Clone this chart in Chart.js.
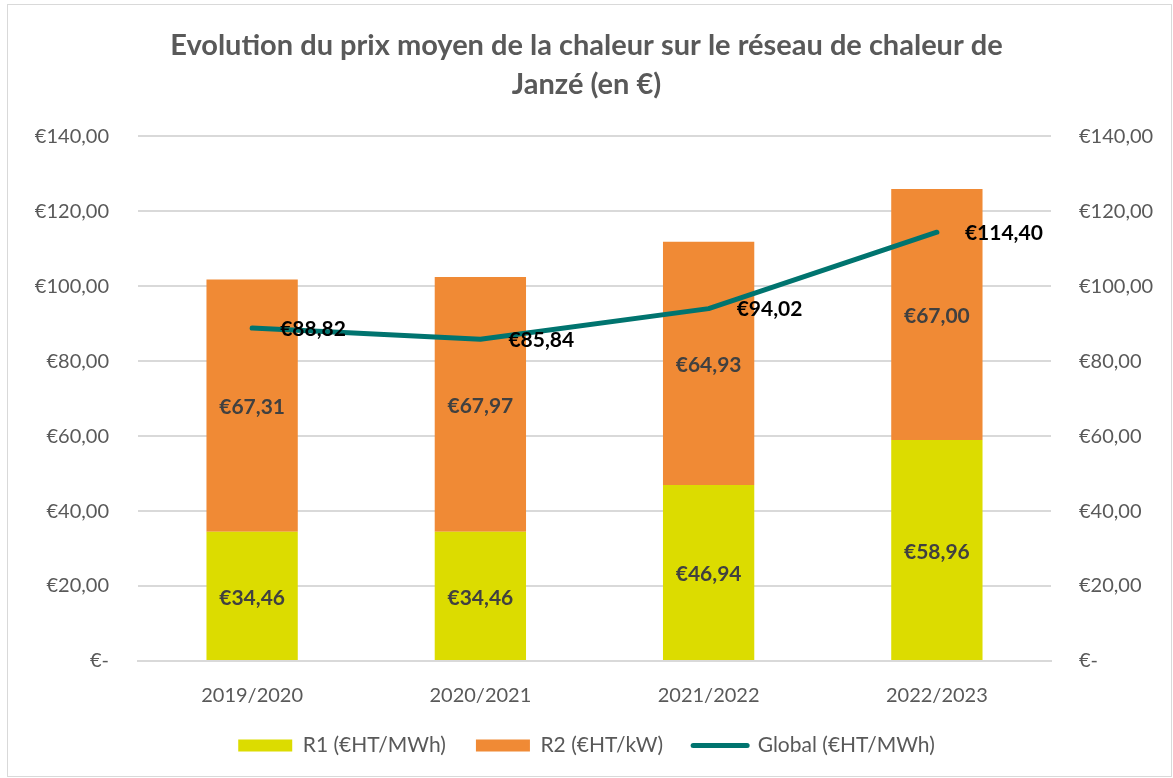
<!DOCTYPE html>
<html>
<head>
<meta charset="utf-8">
<script src="https://cdn.jsdelivr.net/npm/chart.js@4.4.1/dist/chart.umd.min.js"></script>
<style>
  html, body { margin: 0; padding: 0; background: #fff; }
  #wrap { width: 1173px; height: 778px; position: relative; }
</style>
</head>
<body>
<div id="wrap"><canvas id="myChart" width="1173" height="778"></canvas></div>
<script>
var labels = ['2019/2020', '2020/2021', '2021/2022', '2022/2023']
var r1 = [34.46, 34.46, 46.94, 58.96]
var r2 = [67.31, 67.97, 64.93, 67.00]
var global = [88.82, 85.84, 94.02, 114.40]
var yTicks = [0, 20, 40, 60, 80, 100, 120, 140]

var fontFamily = 'Lato, "Open Sans", sans-serif'
var grey = '#595959'

function euro(v) {
  if (v === 0) return '€-'
  return '€' + v.toFixed(2).replace('.', ',')
}

// draws the value labels (no datalabels plugin offline)
var valueLabels = {
  id: 'valueLabels',
  afterDatasetsDraw: function (chart) {
    var ctx = chart.ctx
    ctx.save()
    ctx.font = 'bold 21px ' + fontFamily
    ctx.textBaseline = 'middle'
    chart.data.datasets.forEach(function (ds, i) {
      var meta = chart.getDatasetMeta(i)
      meta.data.forEach(function (el, j) {
        var v = ds.data[j]
        if (ds.type === 'line') {
          ctx.fillStyle = '#000000'
          ctx.textAlign = 'left'
          ctx.fillText(euro(v), el.x + 28, el.y + 1)
        } else {
          ctx.fillStyle = '#404040'
          ctx.textAlign = 'center'
          ctx.fillText(euro(v), el.x, (el.y + el.base) / 2 + 2)
        }
      })
    })
    ctx.restore()
  }
}

var frame = {
  id: 'frame',
  beforeDraw: function (chart) {
    var ctx = chart.ctx
    ctx.save()
    ctx.fillStyle = '#ffffff'
    ctx.fillRect(0, 0, chart.width, chart.height)
    ctx.strokeStyle = '#d9d9d9'
    ctx.lineWidth = 1
    ctx.strokeRect(7.5, 4.5, 1164, 772)
    ctx.restore()
  }
}

var ctx = document.getElementById('myChart').getContext('2d')
var myChart = new Chart(ctx, {
  data: {
    labels: labels,
    datasets: [
      {
        type: 'line',
        label: 'Global (€HT/MWh)',
        data: global,
        borderColor: '#00746f',
        backgroundColor: '#00746f',
        borderWidth: 5,
        borderCapStyle: 'round',
        borderJoinStyle: 'round',
        pointRadius: 0,
        tension: 0,
        yAxisID: 'y',
        order: 0
      },
      {
        type: 'bar',
        label: 'R1 (€HT/MWh)',
        data: r1,
        backgroundColor: '#dcdc00',
        stack: 's',
        categoryPercentage: 0.4,
        barPercentage: 1,
        order: 1
      },
      {
        type: 'bar',
        label: 'R2 (€HT/kW)',
        data: r2,
        backgroundColor: '#f08a35',
        stack: 's',
        categoryPercentage: 0.4,
        barPercentage: 1,
        order: 1
      }
    ]
  },
  options: {
    responsive: false,
    animation: false,
    layout: { padding: { left: 0, right: 0, top: 0, bottom: 12 } },
    plugins: {
      title: {
        display: true,
        text: ['Evolution du prix moyen de la chaleur sur le réseau de chaleur de', 'Janzé (en €)'],
        color: grey,
        font: { family: fontFamily, size: 29, weight: 'bold', lineHeight: 1.35 },
        padding: { top: 26, bottom: 32 }
      },
      legend: {
        position: 'bottom',
        labels: {
          color: grey,
          font: { family: fontFamily, size: 21 },
          usePointStyle: true,
          pointStyleWidth: 54,
          boxHeight: 12,
          padding: 30,
          generateLabels: function (chart) {
            var order = [1, 2, 0]
            return order.map(function (i) {
              var ds = chart.data.datasets[i]
              var isLine = ds.type === 'line'
              return {
                text: ds.label,
                fillStyle: ds.backgroundColor,
                strokeStyle: ds.backgroundColor,
                lineWidth: isLine ? 5 : 0,
                lineCap: 'round',
                pointStyle: isLine ? 'line' : 'rect',
                fontColor: grey,
                datasetIndex: i
              }
            })
          }
        }
      },
      tooltip: { enabled: false }
    },
    scales: {
      x: {
        stacked: true,
        grid: { display: false },
        border: { color: '#d9d9d9', width: 2 },
        ticks: { color: grey, font: { family: fontFamily, size: 20 }, padding: 15 },
        afterFit: function (scale) { scale.height = 44 }
      },
      y: {
        stacked: true,
        position: 'left',
        min: 0,
        max: 140,
        afterBuildTicks: function (scale) { scale.ticks = yTicks.map(function (v) { return { value: v } }) },
        grid: { color: '#d9d9d9', lineWidth: 2, drawTicks: false },
        border: { display: false },
        ticks: {
          color: grey,
          font: { family: fontFamily, size: 20 },
          padding: 29,
          callback: function (v) { return euro(v) }
        },
        afterFit: function (scale) { scale.width = 138 }
      },
      y2: {
        position: 'right',
        min: 0,
        max: 140,
        afterBuildTicks: function (scale) { scale.ticks = yTicks.map(function (v) { return { value: v } }) },
        grid: { display: false, drawTicks: false },
        border: { display: false },
        ticks: {
          color: grey,
          font: { family: fontFamily, size: 20 },
          padding: 28,
          callback: function (v) { return euro(v) }
        },
        afterFit: function (scale) { scale.width = 122 }
      }
    }
  },
  plugins: [frame, valueLabels]
})
</script>
</body>
</html>
